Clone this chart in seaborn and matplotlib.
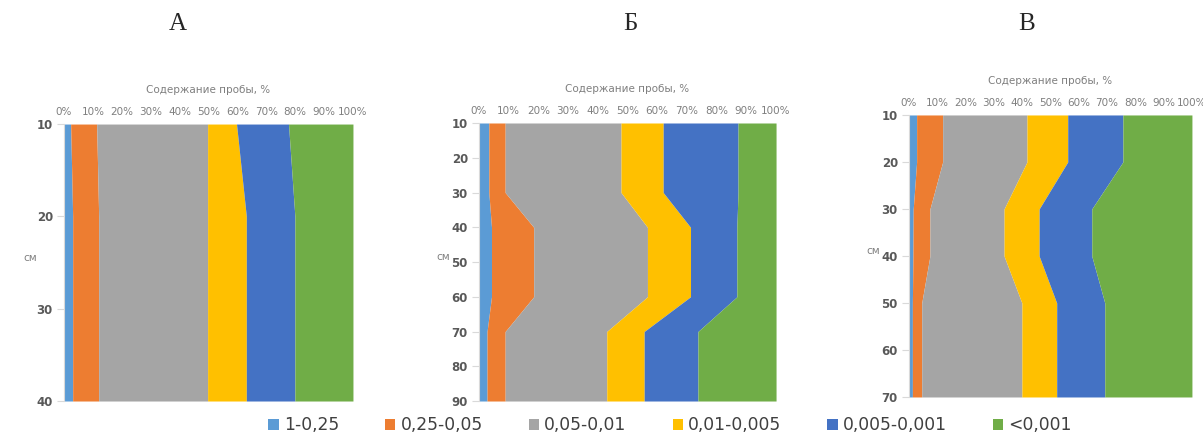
import numpy as np
import matplotlib
matplotlib.use("Agg")
import matplotlib.pyplot as plt
from matplotlib.patches import Patch
import seaborn as sns

sns.set_theme(style="white")
plt.rcParams['font.family'] = ['DejaVu Sans']

# Фракции (мм) и цвета в стиле Excel
fractions = ["1-0,25", "0,25-0,05", "0,05-0,01", "0,01-0,005", "0,005-0,001", "<0,001"]
colors = ["#5B9BD5", "#ED7D31", "#A5A5A5", "#FFC000", "#4472C4", "#70AD47"]

# Разрез А
depth_a = [10, 20, 30, 40]
share_a = [
    [2.3, 3.0, 3.0, 3.0],
    [9.0, 9.0, 9.0, 9.0],
    [38.4, 37.7, 37.7, 37.7],
    [10.0, 13.4, 13.4, 13.4],
    [18.0, 16.8, 16.8, 16.8],
    [22.3, 20.1, 20.1, 20.1],
]

# Разрез Б
depth_b = [10, 20, 30, 40, 50, 60, 70, 80, 90]
share_b = [
    [3.3, 3.3, 3.3, 4.2, 4.2, 4.2, 2.7, 2.7, 2.7],
    [5.5, 5.5, 5.5, 14.2, 14.2, 14.2, 6.1, 6.1, 6.1],
    [39.0, 39.0, 39.0, 38.3, 38.3, 38.3, 34.2, 34.2, 34.2],
    [14.2, 14.2, 14.2, 14.5, 14.5, 14.5, 12.6, 12.6, 12.6],
    [25.2, 25.2, 25.2, 15.6, 15.6, 15.6, 18.1, 18.1, 18.1],
    [12.8, 12.8, 12.8, 13.2, 13.2, 13.2, 26.3, 26.3, 26.3],
]

# Разрез В
depth_c = [10, 20, 30, 40, 50, 60, 70]
share_c = [
    [2.7, 2.7, 1.5, 1.4, 1.2, 1.2, 1.2],
    [9.2, 9.2, 5.9, 6.0, 3.3, 3.3, 3.3],
    [29.8, 29.8, 26.2, 26.2, 35.4, 35.4, 35.4],
    [14.4, 14.4, 12.4, 12.4, 12.3, 12.3, 12.3],
    [19.5, 19.5, 18.6, 18.6, 17.0, 17.0, 17.0],
    [24.4, 24.4, 35.4, 35.4, 30.8, 30.8, 30.8],
]

titles = ["А", "Б", "В"]
panels = [(depth_a, share_a), (depth_b, share_b), (depth_c, share_c)]

fig = plt.figure(figsize=(12.03, 4.34), dpi=100)
boxes = [
    [0.0532, 0.0760, 0.2402, 0.6382],
    [0.3982, 0.0760, 0.2469, 0.6406],
    [0.7556, 0.0853, 0.2352, 0.6498],
]
title_x = [0.148, 0.524, 0.853]
ylab_x = [-0.118, -0.121, -0.127]

for i, (depth, share) in enumerate(panels):
    ax = fig.add_axes(boxes[i])
    depth = np.array(depth)
    cum = np.cumsum(np.array(share), axis=0)
    left = np.zeros(len(depth))
    for k in range(len(fractions)):
        ax.fill_betweenx(depth, left, cum[k], color=colors[k], linewidth=0)
        left = cum[k]

    ax.set_xlim(0, 100)
    ax.set_ylim(depth[-1], depth[0])
    ax.set_yticks(depth)
    ax.set_xticks(np.arange(0, 101, 10))
    ax.set_xticklabels([f"{v}%" for v in range(0, 101, 10)])
    ax.xaxis.tick_top()
    ax.xaxis.set_label_position("top")
    ax.tick_params(axis="x", length=0, pad=5, labelsize=7.5, labelcolor="#7f7f7f")
    ax.tick_params(axis="y", left=True, length=5, width=0.8, color="#d9d9d9",
                   labelsize=8.5, labelcolor="#595959", pad=3)
    for lab in ax.get_yticklabels():
        lab.set_fontweight("bold")
    for s in ["top", "right", "bottom"]:
        ax.spines[s].set_visible(False)
    ax.spines["left"].set_color("#d9d9d9")
    ax.spines["left"].set_linewidth(0.8)

    ax.set_xlabel("Содержание пробы, %", fontsize=7.5, color="#7f7f7f", labelpad=10)
    ax.set_ylabel("см", fontsize=7.5, color="#7f7f7f", rotation=0)
    ax.yaxis.set_label_coords(ylab_x[i], 0.5)

    fig.text(title_x[i], 0.945, titles[i], ha="center", va="center",
             fontsize=18, family=["Liberation Serif", "DejaVu Serif"])

handles = [Patch(facecolor=c, edgecolor="none") for c in colors]
fig.legend(handles, fractions, loc="center", bbox_to_anchor=(0.557, 0.02), ncol=6,
           frameon=False, handlelength=0.6, handleheight=0.6,
           handletextpad=0.3, columnspacing=2.7, labelcolor="#404040",
           prop={"family": ["DejaVu Sans"], "size": 12.3})

fig.savefig("out.png", dpi=100)
